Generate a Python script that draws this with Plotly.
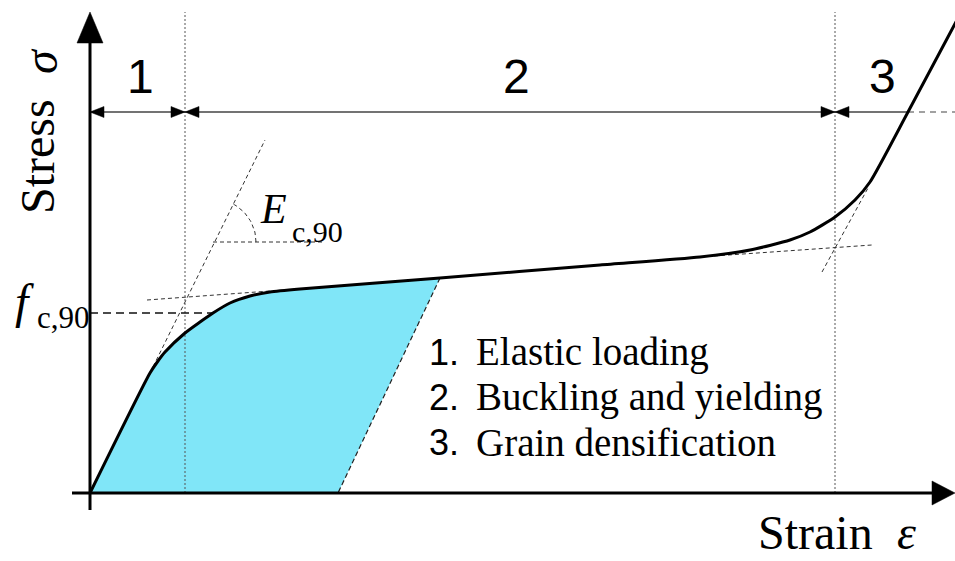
import plotly.graph_objects as go
import math

# ---------------- data (schematic units: strain, stress) ----------------
strain = [0, 60, 68, 75, 95, 110, 123, 140, 160, 180, 210, 350, 510, 610, 660, 700, 720, 745, 765, 780, 818, 875]
stress = [0, 120, 132, 141, 160, 171, 180, 190, 197, 201, 204, 215, 228, 236, 243, 253, 261, 276, 293, 311, 381, 488]

unload_start = [350, 215]      # point where unloading begins
residual_strain = 248          # strain after unloading

f_c90 = 180                    # compressive strength level
f_c90_strain = 123             # curve strain at f_c,90

elastic_tangent = ([60, 175], [120, 353])
plateau_tangent_left = ([57, 180], [193, 202])
plateau_tangent_right = ([610, 782], [236, 248])
densif_tangent = ([732, 778], [221, 305])
angle_ref = ([123, 232], [251, 251])
angle_center = (123, 251)
angle_radius = 43
angle_deg = 63.4

region_bounds = [0, 95, 745]    # strain limits of regions 1, 2, 3
region_curve_cross = 818        # where dimension line meets curve
dim_level = 381                 # stress level of dimension line
region_labels = ["1", "2", "3"]
region_label_x = [50, 426, 792]
region_label_y = 417

x_axis_end = 865
y_axis_end = 481

legend_items = ["1.", "2.", "3."]
legend_texts = ["Elastic loading", "Buckling and yielding", "Grain densification"]
legend_y = [141, 96, 51]
legend_num_x = 337
legend_text_x = 384

SERIF = "Liberation Serif, Times New Roman, serif"
SANS = "Liberation Sans, Arial, sans-serif"

fig = go.Figure()

# filled energy region
fx = [x for x in strain if x <= unload_start[0]] + [residual_strain, 0]
fy = [y for x, y in zip(strain, stress) if x <= unload_start[0]] + [0, 0]
fig.add_trace(go.Scatter(x=fx, y=fy, fill="toself", fillcolor="#80E6F8",
                         line=dict(width=0), mode="lines", hoverinfo="skip"))

def dline(xs, ys, color="#333333", width=1, dash="4px,3px"):
    fig.add_trace(go.Scatter(x=list(xs), y=list(ys), mode="lines",
                             line=dict(color=color, width=width, dash=dash),
                             hoverinfo="skip"))

# vertical dotted region boundaries
for b in region_bounds[1:]:
    dline([b, b], [0, y_axis_end], color="#555555", width=1, dash="2px,2px")

# helper dashed lines
dline(*elastic_tangent)
dline(*plateau_tangent_left)
dline(*plateau_tangent_right)
dline(*densif_tangent)
dline(*angle_ref)
ax_ = [angle_center[0] + angle_radius * math.cos(math.radians(a)) for a in range(0, int(angle_deg) + 1, 3)]
ay_ = [angle_center[1] + angle_radius * math.sin(math.radians(a)) for a in range(0, int(angle_deg) + 1, 3)]
dline(ax_, ay_)
dline([0, f_c90_strain], [f_c90, f_c90], color="#111111", width=1.5, dash="8px,5px")
dline([unload_start[0], residual_strain], [unload_start[1], 0], color="#222222", width=1.2, dash="5px,3px")

# dimension line
dline([region_bounds[0], region_curve_cross], [dim_level, dim_level], color="#444444", width=1.5, dash="solid")
dline([region_curve_cross, x_axis_end], [dim_level, dim_level], color="#444444", width=1.2, dash="6px,5px")

# main curve
fig.add_trace(go.Scatter(x=strain, y=stress, mode="lines",
                         line=dict(color="black", width=3, shape="spline", smoothing=0.6),
                         hoverinfo="skip"))

shapes = []
def tri(tip_x, tip_y, dx, dy, length, half):
    bx, by = tip_x - dx * length, tip_y - dy * length
    px, py = -dy, dx
    path = (f"M {tip_x},{tip_y} L {bx + px*half},{by + py*half} "
            f"L {bx - px*half},{by - py*half} Z")
    shapes.append(dict(type="path", path=path, xref="x", yref="y",
                       fillcolor="black", line=dict(color="black", width=0.5)))

# axes
shapes.append(dict(type="line", x0=-18, y0=0, x1=x_axis_end - 22, y1=0, xref="x", yref="y",
                   line=dict(color="black", width=3)))
shapes.append(dict(type="line", x0=0, y0=-17, x1=0, y1=y_axis_end - 30, xref="x", yref="y",
                   line=dict(color="black", width=3)))
tri(x_axis_end, 0, 1, 0, 23, 12)
tri(0, y_axis_end, 0, 1, 31, 13)

# dimension arrowheads
tri(region_bounds[0], dim_level, -1, 0, 14, 5.5)
for b in region_bounds[1:]:
    tri(b, dim_level, 1, 0, 14, 5.5)
    tri(b, dim_level, -1, 0, 14, 5.5)

annotations = []
def txt(x, y, text, family, size, xanchor="center", style="normal", angle=0):
    annotations.append(dict(x=x, y=y, text=text, showarrow=False, textangle=angle,
                            font=dict(family=family, size=size, color="black", style=style),
                            xanchor=xanchor, yanchor="middle"))

for lab, lx in zip(region_labels, region_label_x):
    txt(lx, region_label_y, lab, SANS, 48)

# axis titles
txt(-53, 336, "Stress", SERIF, 48, angle=-90)
txt(-50, 432, "σ", SERIF, 48, style="italic", angle=-90)
txt(725, -39, "Strain", SERIF, 48)
txt(816, -39, "ε", SERIF, 48, style="italic")

# f_c,90 and E_c,90 labels
txt(-66, 192, "f", SERIF, 48, style="italic")
txt(-55, 176, "c,90", SERIF, 31, xanchor="left")
txt(168, 284, "E", SERIF, 42, xanchor="left", style="italic")
txt(200, 262, "c,90", SERIF, 30, xanchor="left")

for num, t, ly in zip(legend_items, legend_texts, legend_y):
    txt(legend_num_x, ly, num, SANS, 36, xanchor="left")
    txt(legend_text_x, ly, t, SERIF, 39, xanchor="left")

fig.update_layout(
    width=955, height=561, margin=dict(l=0, r=0, t=0, b=0),
    paper_bgcolor="white", plot_bgcolor="white", showlegend=False,
    xaxis=dict(range=[-90, 865], visible=False, fixedrange=True),
    yaxis=dict(range=[-68, 493], visible=False, fixedrange=True),
    shapes=shapes, annotations=annotations,
)

fig.write_html("out.html")
